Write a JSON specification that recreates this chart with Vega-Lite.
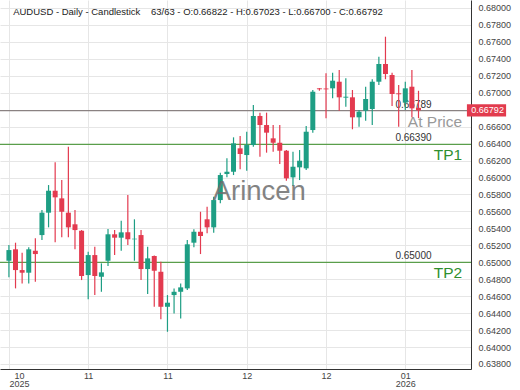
{
  "$schema": "https://vega.github.io/schema/vega-lite/v6.json",
  "width": 471,
  "height": 369,
  "autosize": {"type": "none"},
  "padding": {"left": 0, "top": 0, "right": 49, "bottom": 21},
  "background": "white",
  "config": {"view": {"stroke": null}, "font": "Liberation Sans", "axis": {"labelOverlap": false, "labelBound": false}},
  "datasets": {
    "candles": [
      {"i": 0, "o": 0.65018, "h": 0.65203, "l": 0.64822, "c": 0.65144},
      {"i": 1, "o": 0.65153, "h": 0.65231, "l": 0.64692, "c": 0.64908},
      {"i": 2, "o": 0.64908, "h": 0.65113, "l": 0.64751, "c": 0.64877},
      {"i": 3, "o": 0.64877, "h": 0.65176, "l": 0.64751, "c": 0.65153},
      {"i": 4, "o": 0.65136, "h": 0.65282, "l": 0.6477, "c": 0.65097},
      {"i": 5, "o": 0.65321, "h": 0.65616, "l": 0.65262, "c": 0.65585},
      {"i": 6, "o": 0.65585, "h": 0.65911, "l": 0.65412, "c": 0.65844},
      {"i": 7, "o": 0.65844, "h": 0.66179, "l": 0.65235, "c": 0.65766},
      {"i": 8, "o": 0.65754, "h": 0.6597, "l": 0.65294, "c": 0.65596},
      {"i": 9, "o": 0.65585, "h": 0.66363, "l": 0.65294, "c": 0.65412},
      {"i": 10, "o": 0.65448, "h": 0.65616, "l": 0.65153, "c": 0.6538},
      {"i": 11, "o": 0.65372, "h": 0.6538, "l": 0.6479, "c": 0.64838},
      {"i": 12, "o": 0.64849, "h": 0.65124, "l": 0.64563, "c": 0.65085},
      {"i": 13, "o": 0.65085, "h": 0.65183, "l": 0.64613, "c": 0.64838},
      {"i": 14, "o": 0.64829, "h": 0.64987, "l": 0.64652, "c": 0.64881},
      {"i": 15, "o": 0.65018, "h": 0.65392, "l": 0.64956, "c": 0.6533},
      {"i": 16, "o": 0.6533, "h": 0.6538, "l": 0.65085, "c": 0.6529},
      {"i": 17, "o": 0.6529, "h": 0.6549, "l": 0.65136, "c": 0.65353},
      {"i": 18, "o": 0.65353, "h": 0.65793, "l": 0.65203, "c": 0.65271},
      {"i": 19, "o": 0.65271, "h": 0.65507, "l": 0.65018, "c": 0.65278},
      {"i": 20, "o": 0.65321, "h": 0.6538, "l": 0.6479, "c": 0.6492},
      {"i": 21, "o": 0.6492, "h": 0.65183, "l": 0.64625, "c": 0.65046},
      {"i": 22, "o": 0.65074, "h": 0.6508, "l": 0.64475, "c": 0.649},
      {"i": 23, "o": 0.64888, "h": 0.65006, "l": 0.64327, "c": 0.64475},
      {"i": 24, "o": 0.64475, "h": 0.64613, "l": 0.6418, "c": 0.64523},
      {"i": 25, "o": 0.64613, "h": 0.64692, "l": 0.64397, "c": 0.64652},
      {"i": 26, "o": 0.64652, "h": 0.64751, "l": 0.64338, "c": 0.64704},
      {"i": 27, "o": 0.64692, "h": 0.65262, "l": 0.64672, "c": 0.65212},
      {"i": 28, "o": 0.65231, "h": 0.65389, "l": 0.65176, "c": 0.6536},
      {"i": 29, "o": 0.6536, "h": 0.65596, "l": 0.65097, "c": 0.6531},
      {"i": 30, "o": 0.65507, "h": 0.65655, "l": 0.65341, "c": 0.65412},
      {"i": 31, "o": 0.65412, "h": 0.65773, "l": 0.65349, "c": 0.65734},
      {"i": 32, "o": 0.65734, "h": 0.66057, "l": 0.65695, "c": 0.66029},
      {"i": 33, "o": 0.66041, "h": 0.66226, "l": 0.66002, "c": 0.66068},
      {"i": 34, "o": 0.66068, "h": 0.66474, "l": 0.66029, "c": 0.66403},
      {"i": 35, "o": 0.66344, "h": 0.6649, "l": 0.66097, "c": 0.66277},
      {"i": 36, "o": 0.66265, "h": 0.6654, "l": 0.6608, "c": 0.66383},
      {"i": 37, "o": 0.66383, "h": 0.66855, "l": 0.66363, "c": 0.66726},
      {"i": 38, "o": 0.66726, "h": 0.66765, "l": 0.66245, "c": 0.66619},
      {"i": 39, "o": 0.66619, "h": 0.66765, "l": 0.66293, "c": 0.66529},
      {"i": 40, "o": 0.66462, "h": 0.66619, "l": 0.66304, "c": 0.6641},
      {"i": 41, "o": 0.6641, "h": 0.66619, "l": 0.66159, "c": 0.66316},
      {"i": 42, "o": 0.66316, "h": 0.66324, "l": 0.65962, "c": 0.6599},
      {"i": 43, "o": 0.66002, "h": 0.66304, "l": 0.659, "c": 0.66127},
      {"i": 44, "o": 0.6612, "h": 0.66324, "l": 0.6597, "c": 0.66198},
      {"i": 45, "o": 0.66108, "h": 0.66608, "l": 0.66088, "c": 0.6654},
      {"i": 46, "o": 0.6656, "h": 0.67032, "l": 0.66529, "c": 0.67012},
      {"i": 47, "o": 0.67052, "h": 0.67055, "l": 0.67024, "c": 0.67041},
      {"i": 48, "o": 0.6705, "h": 0.67229, "l": 0.66698, "c": 0.6704},
      {"i": 49, "o": 0.67052, "h": 0.67237, "l": 0.66934, "c": 0.67142},
      {"i": 50, "o": 0.6713, "h": 0.67268, "l": 0.66788, "c": 0.66946},
      {"i": 51, "o": 0.66942, "h": 0.6717, "l": 0.66835, "c": 0.66953},
      {"i": 52, "o": 0.66946, "h": 0.67032, "l": 0.66569, "c": 0.6671},
      {"i": 53, "o": 0.6671, "h": 0.66796, "l": 0.66599, "c": 0.66776},
      {"i": 54, "o": 0.66788, "h": 0.67071, "l": 0.6667, "c": 0.66926},
      {"i": 55, "o": 0.66808, "h": 0.67159, "l": 0.66619, "c": 0.6713},
      {"i": 56, "o": 0.6713, "h": 0.67425, "l": 0.67091, "c": 0.67339},
      {"i": 57, "o": 0.67339, "h": 0.67661, "l": 0.67159, "c": 0.67221},
      {"i": 58, "o": 0.67209, "h": 0.67237, "l": 0.66844, "c": 0.66985},
      {"i": 59, "o": 0.66993, "h": 0.67091, "l": 0.66599, "c": 0.66982},
      {"i": 60, "o": 0.66883, "h": 0.6713, "l": 0.66796, "c": 0.67052},
      {"i": 61, "o": 0.67071, "h": 0.67268, "l": 0.6671, "c": 0.66816},
      {"i": 62, "o": 0.66822, "h": 0.67023, "l": 0.667, "c": 0.66792}
    ],
    "levels": [
      {"v": 0.66789, "label": "0.66789", "name": "At Price"},
      {"v": 0.6639, "label": "0.66390", "name": "TP1"},
      {"v": 0.65, "label": "0.65000", "name": "TP2"}
    ]
  },
  "layer": [
    {
      "data": {"name": "levels"},
      "mark": {"type": "rule", "strokeWidth": 1.2},
      "encoding": {
        "y": {
          "field": "v", "type": "quantitative",
          "scale": {"domain": [0.63741, 0.68094], "nice": false, "zero": false},
          "axis": {
            "title": null, "orient": "right", "tickCount": 40,
            "values": [0.638, 0.64, 0.642, 0.644, 0.646, 0.648, 0.65, 0.652, 0.654, 0.656, 0.658, 0.66, 0.662, 0.664, 0.666, 0.668, 0.67, 0.672, 0.674, 0.676, 0.678, 0.68],
            "labelExpr": "abs(datum.value - 0.668) < 0.00001 ? '' : format(datum.value, '.5f')",
            "labelOverlap": false,
            "grid": true, "gridColor": "#e6e6e6", "ticks": false,
            "domainColor": "#333333", "labelColor": "#444444", "labelFontSize": 9, "labelPadding": 7, "labelFont": "Liberation Sans"
          }
        },
        "color": {"condition": {"test": "datum.name == 'At Price'", "value": "#8a8282"}, "value": "#5a9e4b"}
      }
    },
    {
      "data": {"name": "levels"},
      "mark": {"type": "text", "align": "left", "baseline": "alphabetic", "dy": -3, "fontSize": 10, "color": "#333333", "font": "Liberation Sans"},
      "encoding": {
        "x": {"datum": 58.5, "type": "quantitative"},
        "y": {"field": "v", "type": "quantitative"},
        "text": {"field": "label"}
      }
    },
    {
      "data": {"name": "levels"},
      "mark": {"type": "text", "align": "right", "baseline": "top", "dy": 4, "fontSize": 15.5, "font": "Liberation Sans"},
      "encoding": {
        "x": {"datum": 68.6, "type": "quantitative"},
        "y": {"field": "v", "type": "quantitative"},
        "text": {"field": "name"},
        "color": {"condition": {"test": "datum.name == 'At Price'", "value": "#999999"}, "value": "#2f8f2f"}
      }
    },
    {
      "data": {"name": "candles"},
      "mark": {"type": "rule", "strokeWidth": 1.2},
      "encoding": {
        "x": {
          "field": "i", "type": "quantitative",
          "scale": {"domain": [-0.593, 69.19], "nice": false, "zero": false},
          "axis": {
            "title": null, "values": [0, 12, 24, 36, 48, 60], "tickCount": 20,
            "labelExpr": "datum.value == 0 ? ['10', '2025'] : datum.value == 12 ? '11' : datum.value == 24 ? '11' : datum.value == 36 ? '12' : datum.value == 48 ? '12' : ['01', '2026']",
            "labelOverlap": false,
            "grid": true, "gridColor": "#e6e6e6", "ticks": false,
            "domainColor": "#333333", "labelColor": "#444444", "labelFontSize": 9, "labelLineHeight": 8.5,
            "labelPadding": 2, "labelBaseline": "top", "labelFont": "Liberation Sans",
            "labelOffset": {"condition": {"test": "datum.value == 0", "value": 10}, "value": 0}
          }
        },
        "y": {"field": "l", "type": "quantitative"},
        "y2": {"field": "h"},
        "color": {"condition": {"test": "datum.c >= datum.o", "value": "#1e9e84"}, "value": "#e33a4f"}
      }
    },
    {
      "data": {"name": "candles"},
      "mark": {"type": "bar", "size": 5},
      "encoding": {
        "x": {"field": "i", "type": "quantitative"},
        "y": {"field": "o", "type": "quantitative"},
        "y2": {"field": "c"},
        "color": {"condition": {"test": "datum.c >= datum.o", "value": "#1e9e84"}, "value": "#e33a4f"}
      }
    },
    {
      "data": {"values": [{}]},
      "mark": {"type": "rect", "color": "#e23b4e"},
      "encoding": {
        "x": {"datum": 69.33, "type": "quantitative"},
        "x2": {"datum": 75.26},
        "y": {"datum": 0.66721, "type": "quantitative"},
        "y2": {"datum": 0.66863}
      }
    },
    {
      "data": {"values": [{}]},
      "mark": {"type": "text", "text": "0.66792", "align": "left", "baseline": "middle", "fontSize": 9, "color": "white", "font": "Liberation Sans"},
      "encoding": {
        "x": {"datum": 70.0, "type": "quantitative"},
        "y": {"datum": 0.66792, "type": "quantitative"}
      }
    },
    {
      "data": {"values": [{}]},
      "mark": {"type": "text", "text": "Arincen", "align": "center", "baseline": "middle", "fontSize": 27.5, "color": "#6e6e6e", "opacity": 0.85, "font": "Liberation Sans"},
      "encoding": {
        "x": {"datum": 37.9, "type": "quantitative"},
        "y": {"datum": 0.65829, "type": "quantitative"}
      }
    },
    {
      "data": {"values": [{}]},
      "mark": {"type": "text", "text": "AUDUSD - Daily - Candlestick\u00a0\u00a0\u00a0 63/63 - O:0.66822 - H:0.67023 - L:0.66700 - C:0.66792", "align": "left", "baseline": "middle", "fontSize": 9.5, "color": "#222222", "font": "Liberation Sans"},
      "encoding": {
        "x": {"datum": 0.64, "type": "quantitative"},
        "y": {"datum": 0.67947, "type": "quantitative"}
      }
    }
  ]
}
